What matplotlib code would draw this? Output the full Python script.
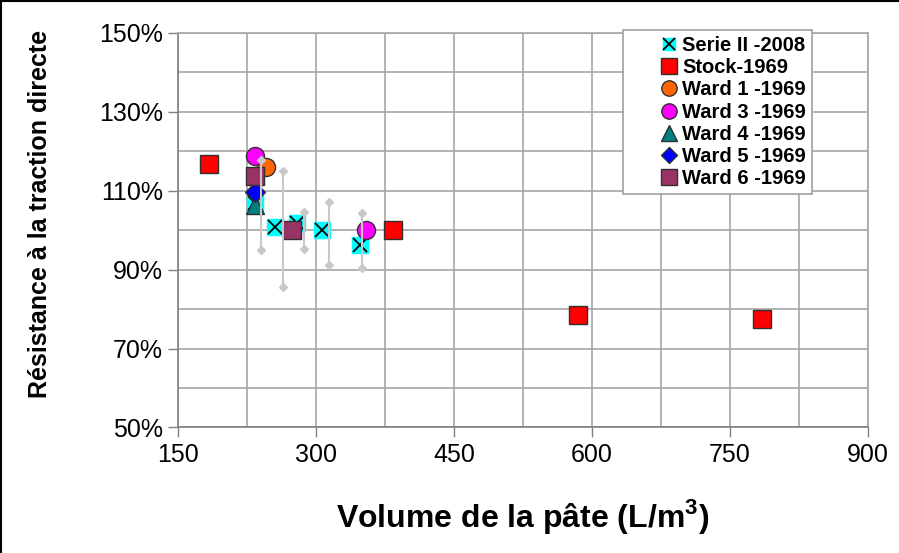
import matplotlib
matplotlib.use("Agg")
import matplotlib.pyplot as plt
from matplotlib.lines import Line2D
from matplotlib.ticker import MultipleLocator, FuncFormatter
from matplotlib.legend_handler import HandlerTuple

# data (x = volume de pate L/m3, y = resistance %)
serie_x = [234, 255, 279, 306, 348]
serie_y = [106.9, 100.8, 101.8, 100.1, 96.3]

err_x = [240, 264, 287, 314, 350]
err_lo = [95.1, 85.5, 95.3, 91.3, 90.4]
err_hi = [117.8, 115.1, 104.6, 107.2, 104.4]

stock_x = [184, 384, 585, 785]
stock_y = [116.8, 100.1, 78.4, 77.5]

ward1_x = [246]
ward1_y = [115.9]
ward3_x = [234, 354]
ward3_y = [118.9, 100.1]
ward4_x = [234]
ward4_y = [106.4]
ward5_x = [234]
ward5_y = [109.8]
ward6_x = [234, 274]
ward6_y = [113.8, 100.1]

y_ticks = [50, 70, 90, 110, 130, 150]

plt.rcParams['font.family'] = ['Liberation Sans', 'DejaVu Sans']

fig = plt.figure(figsize=(8.99, 5.53), dpi=100)
ax = fig.add_axes([0.198, 0.227, 0.7675, 0.7135])

grid_c = '#a6a6a6'
ax.set_xlim(150, 900)
ax.set_ylim(50, 150)
ax.xaxis.set_major_locator(MultipleLocator(150))
ax.xaxis.set_minor_locator(MultipleLocator(75))
ax.set_yticks(y_ticks)
ax.yaxis.set_minor_locator(MultipleLocator(10))
ax.yaxis.set_major_formatter(FuncFormatter(lambda v, p: '%d%%' % v))
ax.grid(True, which='both', color=grid_c, linewidth=1.2, zorder=0)
ax.set_axisbelow(True)
ax.tick_params(which='major', direction='out', length=7, width=1, color='#808080',
               labelsize=18, pad=4)
ax.tick_params(which='minor', length=0)
for s in ax.spines.values():
    s.set_color(grid_c)
    s.set_linewidth(1.2)
ax.spines['left'].set_color('#808080')
ax.spines['bottom'].set_color('#808080')

ms = 13
h_serie_sq, = ax.plot(serie_x, serie_y, 's', ms=11, mfc='#00ffff', mec='#00ffff', zorder=3)
h_serie_x, = ax.plot(serie_x, serie_y, 'x', ms=10, mew=1.3, color='black', zorder=3)
h_stock, = ax.plot(stock_x, stock_y, 's', ms=ms, mfc='#ff0000', mec='#303030', mew=1, zorder=3)
h_w1, = ax.plot(ward1_x, ward1_y, 'o', ms=ms, mfc='#ff6600', mec='#303030', mew=1, zorder=3)
h_w3, = ax.plot(ward3_x, ward3_y, 'o', ms=ms, mfc='#ff00ff', mec='#303030', mew=1, zorder=3)
h_w4, = ax.plot(ward4_x, ward4_y, '^', ms=ms, mfc='#008080', mec='#303030', mew=1, zorder=3)
h_w5, = ax.plot(ward5_x, ward5_y, 'D', ms=10, mfc='#0000ff', mec='#303030', mew=1, zorder=3)
h_w6, = ax.plot(ward6_x, ward6_y, 's', ms=ms, mfc='#993366', mec='#303030', mew=1, zorder=3)

# error bars of Serie II
ax.vlines(err_x, err_lo, err_hi, color='#c8c8c8', linewidth=1.5, zorder=4)
ax.plot(err_x, err_lo, 'D', ms=4.5, color='#c8c8c8', zorder=4)
ax.plot(err_x, err_hi, 'D', ms=4.5, color='#c8c8c8', zorder=4)

ax.set_xlabel('Volume de la pâte (L/m$^\\mathregular{3}$)', fontsize=23, fontweight='bold', labelpad=22)
ax.set_ylabel('Résistance à la traction directe', fontsize=18, fontweight='bold')
ax.yaxis.set_label_coords(-0.183, 0.54)

handles = [(h_serie_sq, h_serie_x), h_stock, h_w1, h_w3, h_w4, h_w5, h_w6]
labels = ['Serie II -2008', 'Stock-1969', 'Ward 1 -1969', 'Ward 3 -1969',
          'Ward 4 -1969', 'Ward 5 -1969', 'Ward 6 -1969']
leg = fig.legend(handles, labels, loc='upper left', bbox_to_anchor=(0.693, 0.946),
                 handler_map={tuple: HandlerTuple(ndivide=1, pad=0)},
                 prop={'weight': 'bold', 'size': 14.5}, fancybox=False, framealpha=1,
                 edgecolor='#a0a0a0', borderpad=0.3, labelspacing=0.16,
                 handlelength=4.0, handletextpad=-1.35, borderaxespad=0, markerscale=0.85)
leg.get_frame().set_linewidth(1.2)

# outer frame (top and left)
fig.add_artist(Line2D([0, 1], [0.999, 0.999], transform=fig.transFigure, color='black', lw=1.5))
fig.add_artist(Line2D([0.001, 0.001], [0, 1], transform=fig.transFigure, color='black', lw=1.5))

fig.savefig('out.png', dpi=100)
